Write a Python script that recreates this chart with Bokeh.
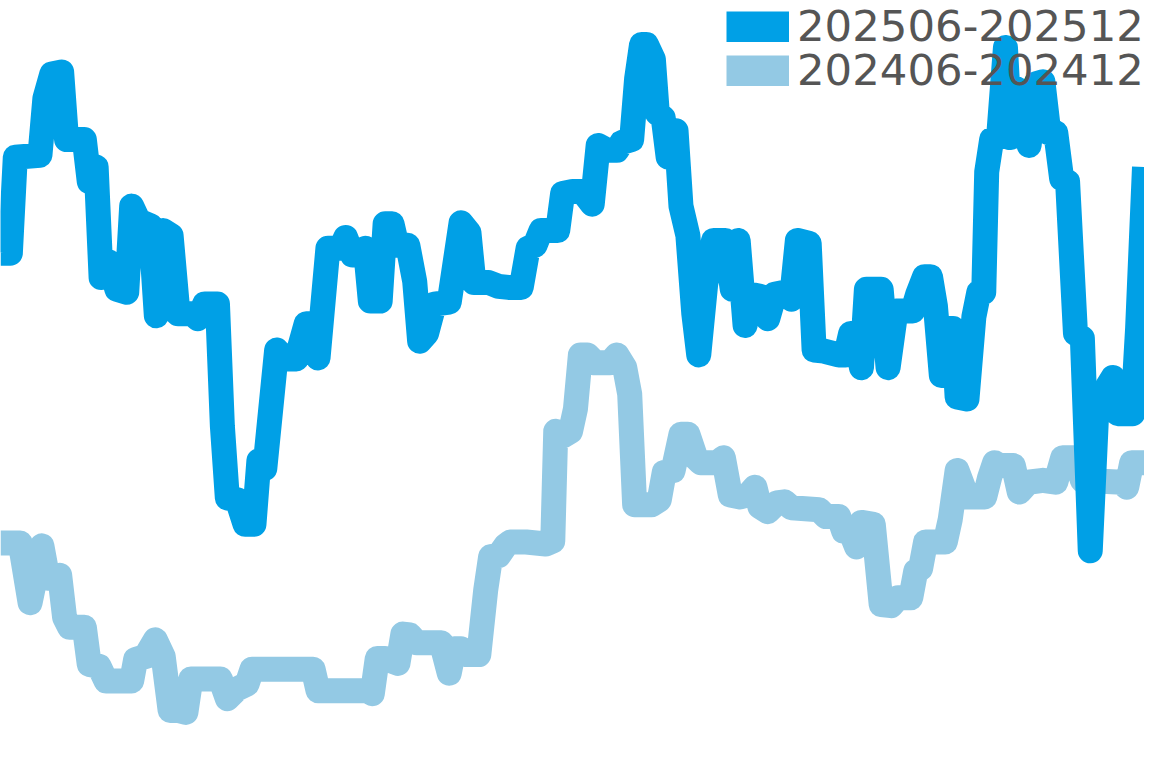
from bokeh.plotting import figure
from bokeh.models import Range1d, Legend, LegendItem, ColumnDataSource
from bokeh.embed import file_html
from bokeh.resources import INLINE

# time index (0..1160 scale) and values
t_2025 = [0, 10, 15, 40, 45, 52, 62, 67, 85, 90, 97, 102, 110, 118, 128, 133, 140, 152, 158, 165,
          173, 180, 195, 200, 207, 220, 225, 230, 240, 248, 257, 262, 268, 280, 288, 300, 310, 317, 322, 332,
          345, 350, 357, 370, 375, 385, 390, 397, 402, 413, 420, 425, 432, 440, 455, 467, 475, 480, 495, 505,
          515, 528, 535, 542, 548, 565, 570, 580, 590, 600, 606, 615, 625, 630, 640, 645, 650, 655, 662, 666,
          672, 677, 680, 685, 690, 697, 703, 708, 715, 723, 735, 742, 748, 755, 760, 770, 778, 785, 795, 802,
          808, 820, 825, 835, 850, 857, 862, 867, 873, 878, 893, 900, 908, 925, 930, 937, 943, 948, 954, 962,
          966, 970, 980, 987, 992, 997, 1000, 1005, 1012, 1019, 1024, 1030, 1037, 1043, 1050, 1057, 1063, 1070, 1076, 1082,
          1090, 1097, 1105, 1112, 1117, 1128, 1133, 1148, 1153, 1160]
v_2025 = [510, 510, 608, 610, 668, 693, 695, 626, 626, 583, 598, 485, 501, 473, 470, 558, 543, 538, 446, 533,
          528, 448, 448, 443, 458, 458, 333, 260, 258, 233, 233, 298, 290, 411, 402, 402, 438, 438, 403, 515,
          515, 526, 508, 515, 461, 461, 540, 540, 518, 518, 481, 420, 428, 458, 460, 541, 531, 480, 480, 476,
          475, 475, 515, 518, 533, 533, 571, 573, 573, 560, 620, 615, 615, 623, 626, 688, 723, 723, 708, 653,
          648, 608, 633, 635, 558, 528, 448, 406, 478, 523, 523, 473, 523, 436, 468, 466, 443, 468, 470, 463,
          523, 520, 411, 410, 406, 406, 428, 428, 393, 473, 473, 393, 451, 451, 468, 486, 486, 456, 385, 433,
          433, 363, 361, 445, 470, 470, 593, 626, 628, 720, 628, 678, 673, 620, 683, 685, 633, 633, 586, 583,
          428, 423, 206, 358, 365, 383, 346, 346, 433, 598]

t_2024 = [0, 20, 30, 42, 48, 60, 65, 70, 85, 90, 100, 107, 133, 137, 147, 157, 165, 172, 180, 188,
          193, 223, 230, 240, 250, 255, 317, 322, 373, 377, 382, 390, 403, 408, 415, 422, 447, 455, 460, 467,
          473, 485, 492, 497, 505, 512, 517, 533, 553, 560, 563, 570, 578, 583, 588, 595, 603, 618, 625, 633,
          638, 643, 660, 668, 673, 682, 690, 697, 705, 710, 727, 733, 740, 750, 758, 765, 770, 778, 787, 795,
          802, 830, 837, 850, 855, 862, 868, 873, 885, 893, 903, 910, 923, 928, 933, 938, 958, 963, 970, 980,
          998, 1003, 1008, 1013, 1027, 1033, 1042, 1057, 1070, 1077, 1090, 1097, 1137, 1142, 1147, 1160]
v_2024 = [214, 214, 153, 211, 178, 181, 138, 128, 128, 90, 88, 73, 73, 95, 98, 115, 98, 43, 43, 41,
          75, 75, 55, 65, 70, 85, 85, 63, 63, 60, 96, 96, 91, 121, 120, 112, 112, 81, 106, 106,
          100, 100, 166, 200, 201, 211, 215, 215, 213, 216, 328, 323, 328, 351, 406, 406, 398, 398, 406, 393,
          366, 253, 253, 258, 286, 288, 325, 325, 301, 296, 296, 301, 263, 261, 263, 271, 251, 246, 255, 256,
          250, 248, 241, 241, 226, 225, 210, 235, 233, 151, 150, 158, 158, 185, 188, 215, 215, 238, 288, 261,
          261, 281, 296, 293, 293, 266, 276, 278, 276, 301, 301, 278, 276, 271, 296, 296]

labels = ["202506-202512", "202406-202412"]
colors = ["#00A0E6", "#93C9E4"]

p = figure(width=1144, height=752, output_backend="svg", toolbar_location=None,
           x_range=Range1d(0, 1160), y_range=Range1d(0, 768), min_border=0)
p.axis.visible = False
p.grid.visible = False
p.outline_line_color = None
p.background_fill_color = "white"
p.border_fill_color = "white"

p.line(t_2024, v_2024, line_width=25, color=colors[1], line_join="round")
p.line(t_2025, v_2025, line_width=25, color=colors[0], line_join="round")

# legend swatches: off-range renderers used only for the legend boxes
off = ColumnDataSource(data=dict(x=[-500, -400], y=[-500, -500]))
d1 = p.line("x", "y", source=off, line_width=31, color=colors[0])
d2 = p.line("x", "y", source=off, line_width=31, color=colors[1])

common = dict(border_line_color=None, background_fill_alpha=0, padding=0, margin=0,
              glyph_width=63, glyph_height=31, label_standoff=8, label_height=60,
              label_text_font_size="43.4px", label_text_color="#555555",
              label_text_font="DejaVu Sans")
leg1 = Legend(items=[LegendItem(label=labels[0], renderers=[d1])], location=(726, 696), **common)
leg2 = Legend(items=[LegendItem(label=labels[1], renderers=[d2])], location=(726, 652), **common)
p.add_layout(leg1)
p.add_layout(leg2)

open("out.html", "w").write(file_html(p, INLINE))
